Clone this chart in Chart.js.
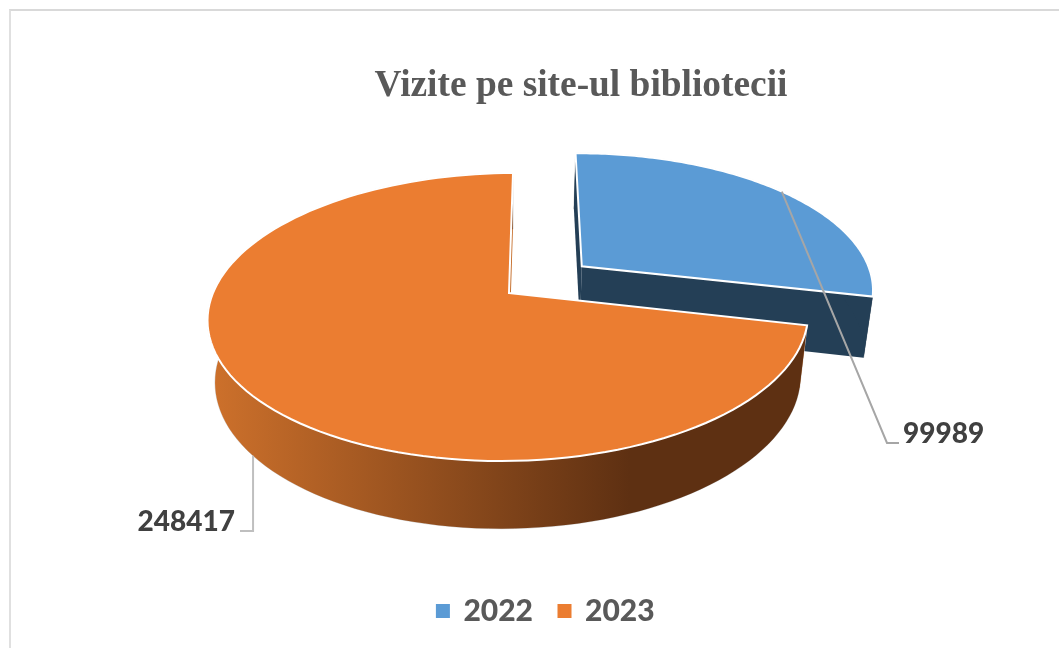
<!DOCTYPE html>
<html lang="ro">
<head>
<meta charset="utf-8">
<title>Vizite pe site-ul bibliotecii</title>
<script src="https://cdn.jsdelivr.net/npm/chart.js@4"></script>
<style>
    html, body { margin: 0; padding: 0; background: #fff; overflow: hidden; }
    #grafico { position: absolute; left: 0; top: 0; }
    #rama { position: absolute; left: 9px; top: 9px; width: 1060px; height: 650px;
            border-top: 2px solid #d9d9d9; border-left: 2px solid #e0e0e0; }
</style>
</head>
<body>
<div id="rama"></div>
<canvas id="grafico" width="1059" height="648"></canvas>
<script>
const categorii = ['2022', '2023'];
const vizite = [99989, 248417];
const culori = ['#5B9BD5', '#EB7D31'];
const titlu = 'Vizite pe site-ul bibliotecii';

// perspective of the tilted disc: apex on screen, half axes, shear, depth of the slab
const vedere = { x: 509, y: 293, a: 296, b: 140, k: 1 / 6, sh: -7, h: 61, sx: 0.975, sy: 1.04 };
const explodare = 0.318;
const explodareUnghi = 0.4 * Math.PI / 180;

// disc coords (u right, v towards viewer) -> screen, top or bottom face
function proiectie(u, v, jos) {
    const d = 1 - vedere.k * v;
    const sx = jos ? vedere.sx : 1;
    const sy = jos ? vedere.sy : 1;
    return {
        x: vedere.x + sx * (vedere.a * u + vedere.sh * v) / d,
        y: vedere.y + (jos ? vedere.h : 0) + vedere.b * sy * v / d
    };
}

function pePerimetru(arc, unghi, jos) {
    return proiectie(arc.du + Math.cos(unghi), arc.dv + Math.sin(unghi), jos);
}

function traseu(ctx, puncte) {
    ctx.beginPath();
    puncte.forEach((p, i) => i ? ctx.lineTo(p.x, p.y) : ctx.moveTo(p.x, p.y));
    ctx.closePath();
}

function rim(arc, de, la, jos) {
    const pasi = 120;
    const lista = [];
    for (let i = 0; i <= pasi; i++) {
        lista.push(pePerimetru(arc, de + (la - de) * i / pasi, jos));
    }
    return lista;
}

function desenFelie(ctx, arc, culoare, peretePlin, pereteRaza) {
    const sus = rim(arc, arc.start, arc.end, false);
    const jos = rim(arc, arc.start, arc.end, true);
    const apexSus = proiectie(arc.du, arc.dv, false);
    const apexJos = proiectie(arc.du, arc.dv, true);
    const perete = sus.concat(jos.slice().reverse());

    // thin grey outline of the slab
    traseu(ctx, perete);
    ctx.strokeStyle = '#d4d4d4';
    ctx.lineWidth = 1;
    ctx.stroke();

    // radial walls
    ctx.fillStyle = pereteRaza;
    traseu(ctx, [sus[0], apexSus, apexJos, jos[0]]);
    ctx.fill();
    traseu(ctx, [apexSus, sus[sus.length - 1], jos[jos.length - 1], apexJos]);
    ctx.fill();

    // outer wall
    traseu(ctx, perete);
    ctx.fillStyle = peretePlin;
    ctx.fill();

    // top face
    traseu(ctx, [apexSus].concat(sus));
    ctx.fillStyle = culoare;
    ctx.fill();
    ctx.strokeStyle = '#fff';
    ctx.lineWidth = 2;
    ctx.stroke();
}

function text(ctx, valoare, x, y, align) {
    ctx.font = '900 28px Lato';
    ctx.fillStyle = '#404040';
    ctx.textAlign = align;
    ctx.textBaseline = 'middle';
    ctx.fillText(String(valoare), x, y);
}

const pie3d = {
    id: 'pie3d',
    afterLayout(chart) {
        // title sits right of the legend in the original
        chart.titleBlock.left += 35;
        chart.titleBlock.right += 35;
    },
    beforeDatasetsDraw(chart) {
        const ctx = chart.ctx;
        const elemente = chart.getDatasetMeta(0).data;
        const felii = elemente.map((el) => {
            const mij = (el.startAngle + el.endAngle) / 2;
            return { start: el.startAngle, end: el.endAngle, mij: mij, du: 0, dv: 0 };
        });
        felii[0].du = explodare * Math.cos(felii[0].mij + explodareUnghi);
        felii[0].dv = explodare * Math.sin(felii[0].mij + explodareUnghi);

        ctx.save();
        desenFelie(ctx, felii[0], culori[0], '#243F56', '#243F56');

        const grad = ctx.createLinearGradient(215, 0, 630, 0);
        grad.addColorStop(0, '#CC702B');
        grad.addColorStop(1, '#5E3012');
        desenFelie(ctx, felii[1], culori[1], grad, '#C2661F');

        // leader lines
        const a = pePerimetru(felii[0], felii[0].mij, false);
        const b = pePerimetru(felii[1], felii[1].mij, true);
        ctx.lineWidth = 2;
        ctx.strokeStyle = '#A6A6A6';
        ctx.beginPath();
        ctx.moveTo(a.x, a.y);
        ctx.lineTo(887, 443);
        ctx.lineTo(899, 443);
        ctx.stroke();
        ctx.strokeStyle = '#BFBFBF';
        ctx.beginPath();
        ctx.moveTo(b.x, b.y);
        ctx.lineTo(b.x, 531);
        ctx.lineTo(240, 531);
        ctx.stroke();

        text(ctx, vizite[0], 903, 434, 'left');
        text(ctx, vizite[1], 235, 522, 'right');
        ctx.restore();
        return false;
    }
};

const ctx = document.getElementById('grafico').getContext('2d');
const grafico = new Chart(ctx, {
    type: 'pie',
    data: {
        labels: categorii,
        datasets: [{
            data: vizite,
            backgroundColor: culori,
            borderColor: culori,
            borderWidth: 3
        }]
    },
    options: {
        responsive: false,
        animation: false,
        rotation: -0.45,
        layout: { padding: { left: 33, bottom: 12 } },
        plugins: {
            tooltip: { enabled: false },
            title: {
                display: true,
                text: titlu,
                color: '#595959',
                font: { family: 'Liberation Serif', size: 37.4, weight: 'bold' },
                padding: { top: 64, bottom: 10 }
            },
            legend: {
                position: 'bottom',
                labels: {
                    boxWidth: 11,
                    boxHeight: 11,
                    padding: 26,
                    color: '#595959',
                    font: { family: 'Lato', size: 30, weight: '900' }
                }
            }
        }
    },
    plugins: [pie3d]
});
</script>
</body>
</html>
